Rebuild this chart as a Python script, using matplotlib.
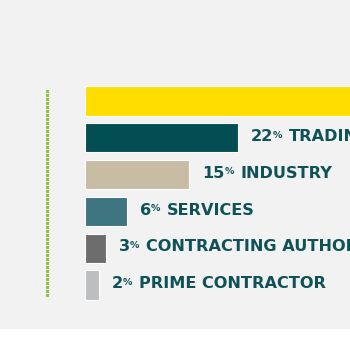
import matplotlib
matplotlib.use('Agg')
import matplotlib.pyplot as plt
from matplotlib.lines import Line2D
from matplotlib.patches import Rectangle

# --- Data ---
categories = ['', 'TRADING', 'INDUSTRY', 'SERVICES', 'CONTRACTING AUTHORITY', 'PRIME CONTRACTOR']
values = [52, 22, 15, 6, 3, 2]
colors = ['#ffdd00', '#024e52', '#c8bca5', '#3e7580', '#6d6d6d', '#bcbec0']

COL_TEXT = '#0e5257'
COL_BG = '#f2f2f2'
COL_DOTS = '#8cc63f'
FONT = 'DejaVu Sans'

W = H = 350
fig = plt.figure(figsize=(3.5, 3.5), dpi=100)
fig.patch.set_facecolor('white')

# grey panel (whole figure except a white strip at the bottom)
fig.patches.append(Rectangle((0, 1 - 329 / H), 1, 329 / H, transform=fig.transFigure,
                             facecolor=COL_BG, edgecolor='none', zorder=-10))

# green dotted rule at left (no antialiasing so the dots stay crisp)
fig.lines.append(Line2D([47 / W, 47 / W], [1 - 90 / H, 1 - 298 / H], transform=fig.transFigure,
                        color=COL_DOTS, linewidth=1.9, linestyle=(0, (0.8, 0.5)),
                        solid_capstyle='butt', dash_capstyle='butt', antialiased=False))

# axes: x = 0 at pixel 85, ~6.95 px per percent; rows every ~36.8 px
px_per = 6.95
left, right = 85, W
top, bottom = 82.6, 303.4
ax = fig.add_axes([left / W, 1 - bottom / H, (right - left) / W, (bottom - top) / H])
ax.set_xlim(0, (right - left) / px_per)
ax.set_ylim(len(values) - 0.5, -0.5)
ax.axis('off')
ax.patch.set_visible(False)

ypos = list(range(len(values)))
ax.barh(ypos, values, height=0.79, color=colors, edgecolor='white', linewidth=0.8,
        clip_on=False)

for y, v, c in zip(ypos, values, categories):
    if not c:
        continue
    num = ax.annotate(f'{v}', xy=(v, y), xytext=(9.5, 1), textcoords='offset points',
                      ha='left', va='center', fontsize=11.6, fontweight='bold',
                      color=COL_TEXT, family=FONT)
    pct = ax.annotate('%', xy=(1, 1), xycoords=num, xytext=(-0.2, -1.2),
                      textcoords='offset points', ha='left', va='top', fontsize=6.8,
                      fontweight='bold', color=COL_TEXT, family=FONT)
    ax.annotate(c, xy=(1, 0), xycoords=(pct, num), xytext=(4.8, 0),
                textcoords='offset points', ha='left', va='bottom', fontsize=11.6,
                fontweight='bold', color=COL_TEXT, family=FONT)

fig.savefig('out.png', dpi=100, facecolor='white')
